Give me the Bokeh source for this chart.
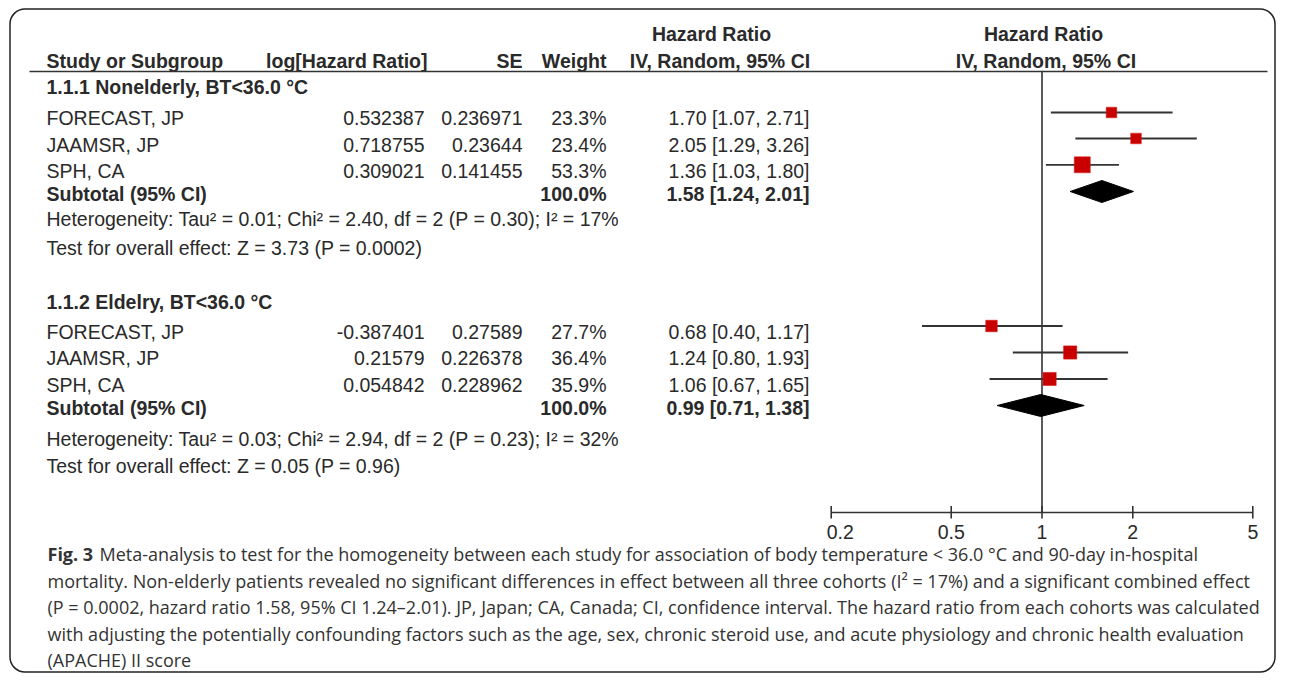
import math
from bokeh.plotting import figure
from bokeh.models import Range1d, LogScale, BoxAnnotation, ColumnDataSource
from bokeh.core.properties import value
from bokeh.embed import file_html
from bokeh.resources import INLINE

# ---------------- data ----------------
group_titles = ["1.1.1 Nonelderly, BT<36.0 °C", "1.1.2 Eldelry, BT<36.0 °C"]
study_names = ["FORECAST, JP", "JAAMSR, JP", "SPH, CA"]

g1_log_hr = [0.532387, 0.718755, 0.309021]
g1_se = [0.236971, 0.23644, 0.141455]
g1_weight = [23.3, 23.4, 53.3]
g1_hr = [1.70, 2.05, 1.36]
g1_lo = [1.07, 1.29, 1.03]
g1_hi = [2.71, 3.26, 1.80]
g1_total = [1.58, 1.24, 2.01]

g2_log_hr = [-0.387401, 0.21579, 0.054842]
g2_se = [0.27589, 0.226378, 0.228962]
g2_weight = [27.7, 36.4, 35.9]
g2_hr = [0.68, 1.24, 1.06]
g2_lo = [0.40, 0.80, 0.67]
g2_hi = [1.17, 1.93, 1.65]
g2_total = [0.99, 0.71, 1.38]

tau2 = ["0.01", "0.03"]
chi2 = ["2.40", "2.94"]
df = [2, 2]
p_het = ["0.30", "0.23"]
i2 = [17, 32]
z_val = ["3.73", "0.05"]
p_z = ["0.0002", "0.96"]

axis_ticks = [0.2, 0.5, 1, 2, 5]
tick_labels = ["0.2", "0.5", "1", "2", "5"]

header_top = ["Hazard Ratio", "Hazard Ratio"]
header_cols = ["Study or Subgroup", "log[Hazard Ratio]", "SE", "Weight",
               "IV, Random, 95% CI", "IV, Random, 95% CI"]
subtotal_label = "Subtotal (95% CI)"

caption_bold = "Fig. 3"
caption_lines = [
    "Meta-analysis to test for the homogeneity between each study for association of body temperature < 36.0 °C and 90-day in-hospital",
    "mortality. Non-elderly patients revealed no significant differences in effect between all three cohorts (I² = 17%) and a significant combined effect",
    "(P = 0.0002, hazard ratio 1.58, 95% CI 1.24–2.01). JP, Japan; CA, Canada; CI, confidence interval. The hazard ratio from each cohorts was calculated",
    "with adjusting the potentially confounding factors such as the age, sex, chronic steroid use, and acute physiology and chronic health evaluation",
    "(APACHE) II score",
]

groups = [
    dict(log_hr=g1_log_hr, se=g1_se, w=g1_weight, hr=g1_hr, lo=g1_lo, hi=g1_hi, tot=g1_total),
    dict(log_hr=g2_log_hr, se=g2_se, w=g2_weight, hr=g2_hr, lo=g2_lo, hi=g2_hi, tot=g2_total),
]

# ---------------- layout (pixel positions in the picture) ----------------
W, H = 1276, 673
FONT = "Liberation Sans"
FS = "19.5px"
TXT = "#2a2a2a"
LINE = "#333333"

X_NAME, X_LOGHR, X_SE, X_W, X_CI = 46, 424, 522, 606, 809
X_HR1_C, X_HR2_C = 711, 1043
Y_HEAD1, Y_HEAD2, Y_RULE = 33, 60.5, 71
Y_GROUP = [86, 301.7]
Y_ROWS = [[117.7, 144, 170.5], [331.7, 357.3, 384]]
Y_FOREST = [[112, 138, 164.3], [325.5, 352, 378.5]]
Y_SUB = [193.3, 407.3]
Y_DIAM = [191, 405]
Y_HET = [218.3, 438.3]
Y_TEST = [247, 465]
Y_AXIS = 512
DIAM_HALF = 11
PX_LOW, PX_HIGH = 830.7, 1252.3  # picture x of 0.2 and 5
TICK_LABEL_DX = [9, 0, 0, 0, 0]
CAP_X = 47
CAP_Y0, CAP_STEP = 553.5, 26.6
CAP_Y = [CAP_Y0 + i * CAP_STEP for i in range(len(caption_lines))]

p = figure(width=W, height=H, output_backend="svg", toolbar_location=None,
           x_range=Range1d(0, W), y_range=Range1d(H, 0),
           x_axis_location=None, y_axis_location=None, min_border=0)
p.grid.visible = False
p.outline_line_color = None
p.background_fill_color = "white"

# log scale for the forest panel, mapped so 0.2 and 5 fall at the measured positions
dec = (PX_HIGH - PX_LOW) / math.log10(axis_ticks[-1] / axis_ticks[0])
log_lo = math.log10(axis_ticks[0]) - PX_LOW / dec
log_hi = math.log10(axis_ticks[-1]) + (W - PX_HIGH) / dec
p.extra_x_ranges = {"hr": Range1d(10 ** log_lo, 10 ** log_hi)}
p.extra_x_scales = {"hr": LogScale()}

# border box
p.add_layout(BoxAnnotation(left=9.5, right=1274.5, top=8.5, bottom=671.5,
                           fill_alpha=0, line_color="#222222", line_alpha=1.0,
                           line_width=1.5, border_radius=15))


def add_text(xs, ys, texts, align="left", bold=False, size=FS, font=FONT, color=TXT):
    src = ColumnDataSource(dict(x=xs, y=ys, t=texts))
    p.text(x="x", y="y", text="t", source=src, text_font=value(font),
           text_font_size=size, text_font_style="bold" if bold else "normal",
           text_align=align, text_baseline="middle", text_color=color)


# headers
add_text([X_HR1_C, X_HR2_C], [Y_HEAD1, Y_HEAD1], header_top, "center", True)
add_text([X_NAME], [Y_HEAD2], header_cols[0:1], "left", True)
add_text([427, X_SE, X_W], [Y_HEAD2] * 3, header_cols[1:4], "right", True)
add_text([719.5, 1045.5], [Y_HEAD2] * 2, header_cols[4:6], "center", True)
p.segment(x0=[29], x1=[1267], y0=[Y_RULE], y1=[Y_RULE], line_color=LINE, line_width=1.6)

# null line
p.segment(x0=[1], x1=[1], y0=[Y_RULE], y1=[Y_AXIS], x_range_name="hr",
          line_color=LINE, line_width=1.6)

for gi, g in enumerate(groups):
    ys = Y_ROWS[gi]
    add_text([X_NAME], [Y_GROUP[gi]], [group_titles[gi]], "left", True)
    add_text([X_NAME] * 3, ys, study_names, "left")
    add_text([X_LOGHR] * 3, ys, [str(v) for v in g["log_hr"]], "right")
    add_text([X_SE] * 3, ys, [str(v) for v in g["se"]], "right")
    add_text([X_W] * 3, ys, [f"{v:.1f}%" for v in g["w"]], "right")
    add_text([X_CI] * 3, ys,
             [f"{h:.2f} [{l:.2f}, {u:.2f}]" for h, l, u in zip(g["hr"], g["lo"], g["hi"])],
             "right")
    add_text([X_NAME], [Y_SUB[gi]], [subtotal_label], "left", True)
    add_text([X_W], [Y_SUB[gi]], [f"{sum(g['w']):.1f}%"], "right", True)
    t = g["tot"]
    add_text([X_CI], [Y_SUB[gi]], [f"{t[0]:.2f} [{t[1]:.2f}, {t[2]:.2f}]"], "right", True)
    add_text([X_NAME], [Y_HET[gi]],
             [f"Heterogeneity: Tau² = {tau2[gi]}; Chi² = {chi2[gi]}, df = {df[gi]} (P = {p_het[gi]}); I² = {i2[gi]}%"],
             "left")
    add_text([X_NAME], [Y_TEST[gi]],
             [f"Test for overall effect: Z = {z_val[gi]} (P = {p_z[gi]})"], "left")

    # forest: CI lines, squares, diamond
    fy = Y_FOREST[gi]
    p.segment(x0=g["lo"], x1=g["hi"], y0=fy, y1=fy, x_range_name="hr",
              line_color=LINE, line_width=1.8)
    p.scatter(x=g["hr"], y=fy, size=[2.2 * math.sqrt(w) for w in g["w"]],
              marker="square", x_range_name="hr", fill_color="#c80000",
              line_color="#d42020", line_width=0.5)
    dy = Y_DIAM[gi]
    p.patches(xs=[[t[1], t[0], t[2], t[0]]],
              ys=[[dy, dy - DIAM_HALF, dy, dy + DIAM_HALF]],
              x_range_name="hr", fill_color="black", line_color="black", line_width=1)

# x axis (log scale)
p.segment(x0=[axis_ticks[0]], x1=[axis_ticks[-1]], y0=[Y_AXIS], y1=[Y_AXIS],
          x_range_name="hr", line_color=LINE, line_width=1.6)
p.segment(x0=axis_ticks, x1=axis_ticks, y0=[Y_AXIS - 6.5] * 5, y1=[Y_AXIS + 6] * 5,
          x_range_name="hr", line_color=LINE, line_width=1.6)
tsrc = ColumnDataSource(dict(x=axis_ticks, y=[Y_AXIS + 19] * 5, t=tick_labels,
                             dx=TICK_LABEL_DX))
p.text(x="x", y="y", text="t", source=tsrc, x_range_name="hr", x_offset="dx",
       text_font=value(FONT), text_font_size=FS, text_align="center",
       text_baseline="middle", text_color=TXT)

# caption
CAP_FONT = "Open Sans"
CAP_FS = "18px"
add_text([CAP_X], [CAP_Y[0]], [caption_bold], "left", True, CAP_FS, CAP_FONT, "#333333")
add_text([CAP_X + 52] + [CAP_X] * 4, CAP_Y, caption_lines, "left", False, CAP_FS, CAP_FONT, "#333333")

open("out.html", "w").write(file_html(p, INLINE))
